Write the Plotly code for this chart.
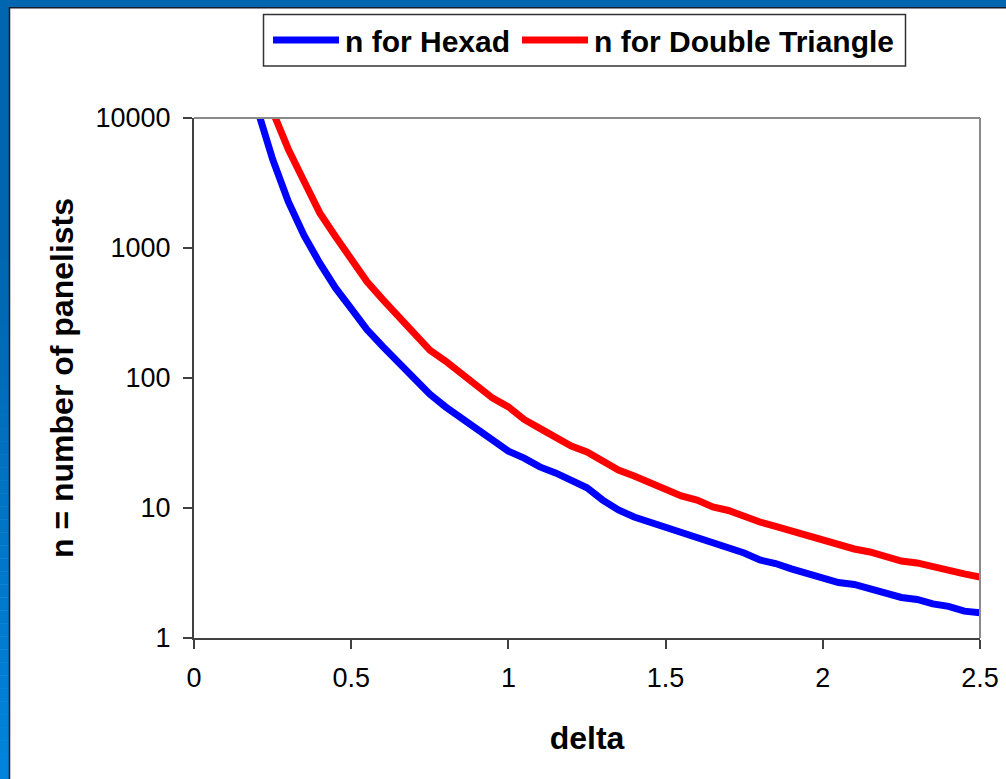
import plotly.graph_objects as go

# ---------------- data ----------------
delta = [0.2, 0.25, 0.3, 0.35, 0.4, 0.45, 0.5, 0.55, 0.6, 0.65, 0.7, 0.75, 0.8, 0.85,
         0.9, 0.95, 1.0, 1.05, 1.1, 1.15, 1.2, 1.25, 1.3, 1.35, 1.4, 1.45, 1.5, 1.55,
         1.6, 1.65, 1.7, 1.75, 1.8, 1.85, 1.9, 1.95, 2.0, 2.05, 2.1, 2.15, 2.2, 2.25,
         2.3, 2.35, 2.4, 2.45, 2.5]

n_hexad = [12000, 4820, 2270, 1250, 765, 493, 342, 236, 175, 132, 97, 75, 60, 49,
           41, 33, 27.4, 24.2, 20.7, 18.6, 16.1, 14.3, 11.5, 9.66, 8.53, 7.8, 7.14, 6.42,
           5.88, 5.38, 4.92, 4.51, 3.98, 3.74, 3.40, 3.13, 2.89, 2.67, 2.58, 2.38, 2.22, 2.05,
           1.98, 1.83, 1.75, 1.61, 1.56]

n_double_triangle = [None, 11280, 5755, 3260, 1862, 1225, 801, 552, 403, 297, 218, 164, 135, 109,
                     85, 70, 60, 48, 41, 35, 30, 27, 22.6, 19.6, 17.6, 15.6, 13.8, 12.4,
                     11.5, 10.2, 9.57, 8.53, 7.8, 7.21, 6.65, 6.09, 5.67, 5.19, 4.84, 4.59, 4.24, 3.91,
                     3.78, 3.52, 3.25, 3.11, 2.94]

series_names = ["n for Hexad", "n for Double Triangle"]
series_values = [n_hexad, n_double_triangle]
series_colors = ["#0000FF", "#FF0000"]

x_tickvals = [0, 0.5, 1, 1.5, 2, 2.5]
x_ticktext = ["0", "0.5", "1", "1.5", "2", "2.5"]
y_tickvals = [1, 10, 100, 1000, 10000]
y_ticktext = ["1", "10", "100", "1000", "10000"]

x_title = "delta"
y_title = "n = number of panelists"

# ---------------- layout geometry (pixels) ----------------
W, H = 1006, 779
L, R, T, B = 194, 26, 118, 141
PW, PH = W - L - R, H - T - B


def px(x):
    return (x - L) / PW


def py(y):
    return (H - B - y) / PH


FONT = "Liberation Sans, Arial, sans-serif"

fig = go.Figure()
for name, vals, col in zip(series_names, series_values, series_colors):
    fig.add_trace(go.Scatter(x=delta, y=vals, mode="lines", name=name,
                             line=dict(color=col, width=7), showlegend=False,
                             connectgaps=False))

shapes = []
# blue slide frame (left band with gradient, top band)
N = 60
c_top = (0x00, 0x66, 0xB0)
c_bot = (0x00, 0x84, 0xDC)
for i in range(N):
    y0 = i * H / N
    y1 = (i + 1) * H / N
    t = max(0.0, (y0 - 250) / (H - 250))
    c = tuple(int(round(a + (b - a) * t)) for a, b in zip(c_top, c_bot))
    shapes.append(dict(type="rect", xref="paper", yref="paper", layer="below",
                       x0=px(0), x1=px(9.5), y0=py(y1 + 0.5), y1=py(y0),
                       fillcolor="rgb(%d,%d,%d)" % c, line=dict(width=0)))
shapes.append(dict(type="rect", xref="paper", yref="paper", layer="below",
                   x0=px(0), x1=px(W), y0=py(7.5), y1=py(0),
                   fillcolor="rgb(0,102,176)", line=dict(width=0)))
shapes.append(dict(type="line", xref="paper", yref="paper", layer="below",
                   x0=px(9.5), x1=px(9.5), y0=py(H), y1=py(7),
                   line=dict(color="#1a1a2a", width=1.5)))
shapes.append(dict(type="line", xref="paper", yref="paper", layer="below",
                   x0=px(9), x1=px(W), y0=py(7.8), y1=py(7.8),
                   line=dict(color="#1a1a2a", width=1.5)))
# gray top/right plot border
shapes.append(dict(type="line", xref="paper", yref="paper",
                   x0=0, x1=1, y0=1, y1=1, line=dict(color="#8a8a8a", width=2)))
shapes.append(dict(type="line", xref="paper", yref="paper",
                   x0=1, x1=1, y0=0, y1=1, line=dict(color="#8a8a8a", width=2)))

# legend box
shapes.append(dict(type="rect", xref="paper", yref="paper",
                   x0=px(263.5), x1=px(905.5), y0=py(66), y1=py(14.5),
                   fillcolor="white", line=dict(color="#333333", width=1.5)))
legend_line_x = [(273, 339), (522, 588)]
legend_text_x = [343, 592]
annotations = []
for (lx0, lx1), tx, name, col in zip(legend_line_x, legend_text_x, series_names, series_colors):
    shapes.append(dict(type="line", xref="paper", yref="paper",
                       x0=px(lx0), x1=px(lx1), y0=py(40), y1=py(40),
                       line=dict(color=col, width=7)))
    annotations.append(dict(xref="paper", yref="paper", x=px(tx), y=py(41),
                            xanchor="left", yanchor="middle", showarrow=False,
                            text="<b>%s</b>" % name,
                            font=dict(family=FONT, size=30, color="black")))

fig.update_layout(
    width=W, height=H,
    margin=dict(l=L, r=R, t=T, b=B, pad=0, autoexpand=False),
    paper_bgcolor="white", plot_bgcolor="white",
    font=dict(family=FONT, color="black"),
    showlegend=False,
    shapes=shapes,
    annotations=annotations,
)
fig.update_xaxes(range=[0, 2.5], tickvals=x_tickvals, ticktext=x_ticktext,
                 showgrid=False, zeroline=False, showline=True, automargin=False,
                 linecolor="#404040", linewidth=2,
                 ticks="outside", ticklen=9, tickwidth=1.5, tickcolor="#404040",
                 ticklabelstandoff=6,
                 tickfont=dict(family=FONT, size=27, color="black"),
                 title=dict(text="<b>%s</b>" % x_title, standoff=34,
                            font=dict(family=FONT, size=32, color="black")))
fig.update_yaxes(type="log", range=[0, 4], tickvals=y_tickvals, ticktext=y_ticktext,
                 showgrid=False, zeroline=False, showline=True, automargin=False,
                 linecolor="#404040", linewidth=2,
                 ticks="outside", ticklen=9, tickwidth=1.5, tickcolor="#404040",
                 ticklabelstandoff=7,
                 tickfont=dict(family=FONT, size=27, color="black"),
                 title=dict(text="<b>%s</b>" % y_title, standoff=12,
                            font=dict(family=FONT, size=32, color="black")))

fig.write_html("out.html", config={"displayModeBar": False},
               post_script="document.body.style.margin='0';document.body.style.overflow='hidden';")
